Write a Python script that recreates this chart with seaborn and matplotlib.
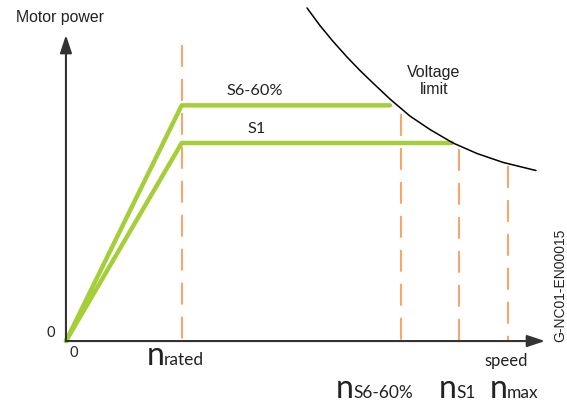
import matplotlib
matplotlib.use("Agg")
import matplotlib.pyplot as plt
import seaborn as sns
import pandas as pd

sns.set_theme(style="white")
plt.rcParams['font.family'] = ['Lato', 'DejaVu Sans']

# speed in units of n_rated, power in units of S1 power
n_rated = 1.0
n_s6 = 2.893
n_s1 = 3.397
n_max = 3.82
p_s1 = 1.0
p_s6 = 1.19

# operating curves (0 -> rated -> end at voltage limit)
s6_speed = [0.0, n_rated, 2.80]
s6_power = [0.0, p_s6, p_s6]
s1_speed = [0.0, n_rated, 3.336]
s1_power = [0.0, p_s1, p_s1]

# voltage limit curve
vl_speed = [2.083, 2.195, 2.308, 2.429, 2.541, 2.653, 2.800, 2.973,
            3.146, 3.345, 3.552, 3.777, 4.062]
vl_power = [1.682, 1.593, 1.513, 1.434, 1.366, 1.303, 1.222, 1.136,
            1.068, 1.000, 0.947, 0.902, 0.861]

# dashed marker lines: speed and top of each line
mark_speed = [n_rated, n_s6, n_s1, n_max]
mark_top = [1.495, 1.146, 0.970, 0.884]
mark_sub = ["rated", "S6-60%", "S1", "max"]
mark_label_x = [0.700, 2.334, 3.224, 3.665]
mark_label_y = [-0.121, -0.290, -0.290, -0.290]

green = "#a6ce39"
orange = "#f7a66c"
dark = "#333333"
txt = "#222222"

fig = plt.figure(figsize=(5.67, 4.07), dpi=100)
ax = fig.add_axes([0, 0, 1, 1])
ax.set_xlim(-0.570, 4.330)
ax.set_ylim(-0.333, 1.722)
ax.axis("off")

# dashed speed lines
for x, top in zip(mark_speed, mark_top):
    ax.plot([x, x], [top, 0], color=orange, lw=1.5, dashes=(10.5, 5.8), zorder=1)

curves = pd.concat([
    pd.DataFrame({"speed": s6_speed, "power": s6_power, "mode": "S6-60%"}),
    pd.DataFrame({"speed": s1_speed, "power": s1_power, "mode": "S1"}),
])
sns.lineplot(data=curves, x="speed", y="power", units="mode", estimator=None,
             sort=False, color=green, lw=3.2, ax=ax, zorder=3)
sns.lineplot(x=vl_speed, y=vl_power, color="black", lw=1.1, ax=ax, zorder=3)

# axes arrows
arrow = dict(arrowstyle="-|>,head_length=0.9,head_width=0.3", color=dark, lw=1.5,
             shrinkA=0, shrinkB=0)
ax.annotate("", xy=(4.14, 0), xytext=(0, 0), arrowprops=arrow, zorder=4)
ax.annotate("", xy=(0, 1.545), xytext=(0, 0), arrowprops=arrow, zorder=4)

sans = ['Liberation Sans', 'DejaVu Sans']
ax.text(-0.432, 1.611, "Motor power", fontsize=11.4, family=sans, color=txt,
        ha="left", va="baseline")
ax.text(1.634, 1.263, "S6-60%", fontsize=11.8, color=txt, ha="center", va="center")
ax.text(1.651, 1.071, "S1", fontsize=11.8, color=txt, ha="center", va="center")
ax.text(3.181, 1.333, "Voltage", fontsize=11.5, family=sans, color=txt,
        ha="center", va="baseline")
ax.text(3.181, 1.247, "limit", fontsize=11.5, family=sans, color=txt,
        ha="center", va="baseline")
ax.text(-0.130, 0.040, "0", fontsize=10.5, color=txt, ha="center", va="center")
ax.text(0.069, -0.061, "0", fontsize=10.5, color=txt, ha="center", va="center")
ax.text(3.803, -0.126, "speed", fontsize=12, color=txt, ha="center", va="baseline")

for x, sub, y in zip(mark_label_x, mark_sub, mark_label_y):
    ax.text(x, y, "n", fontsize=23, color=txt, ha="left", va="baseline")
    ax.text(x + 0.147, y, sub, fontsize=12.5, color=txt, ha="left", va="baseline")

ax.text(4.27, 0.283, "G-NC01-EN00015", fontsize=10, family=sans, color=txt,
        rotation=90, ha="center", va="center")

fig.savefig("out.png", dpi=100)
